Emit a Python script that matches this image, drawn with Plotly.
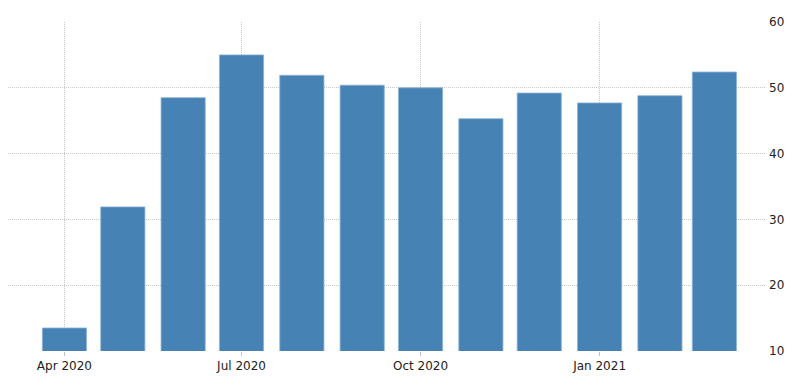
import plotly.graph_objects as go

months = ["2020-04-01", "2020-05-01", "2020-06-01", "2020-07-01", "2020-08-01", "2020-09-01",
          "2020-10-01", "2020-11-01", "2020-12-01", "2021-01-01", "2021-02-01", "2021-03-01"]
values = [13.5, 31.9, 48.5, 55.0, 51.9, 50.4, 50.0, 45.3, 49.2, 47.7, 48.8, 52.4]
tick_dates = ["2020-04-01", "2020-07-01", "2020-10-01", "2021-01-01"]
tick_labels = ["Apr 2020", "Jul 2020", "Oct 2020", "Jan 2021"]
y_ticks = [10, 20, 30, 40, 50, 60]

fig = go.Figure(go.Bar(
    x=months, y=values,
    marker=dict(color="#4682B4", line=dict(color="#8db3d6", width=0.8)),
    width=[22.7 * 86400000] * len(months),
))

fig.update_layout(
    width=800, height=390,
    margin=dict(l=0, r=43, t=14, b=47),
    plot_bgcolor="white", paper_bgcolor="white",
    font=dict(family="DejaVu Sans", size=12, color="#222222"),
    showlegend=False,
    xaxis=dict(
        type="date",
        range=["2020-03-03", "2021-03-27"],
        tickvals=tick_dates, ticktext=tick_labels,
        showgrid=True, gridcolor="#c8c8c8", griddash="1px,1px", gridwidth=1,
        ticks="outside", ticklen=4, tickcolor="#c0c0c0",
        showline=False, zeroline=False,
    ),
    yaxis=dict(
        side="right",
        range=[10, 60],
        tickvals=y_ticks,
        showgrid=True, gridcolor="#c8c8c8", griddash="1px,1px", gridwidth=1,
        ticks="", ticklabelstandoff=3,
        showline=False, zeroline=False,
    ),
)

fig.write_html("out.html")
